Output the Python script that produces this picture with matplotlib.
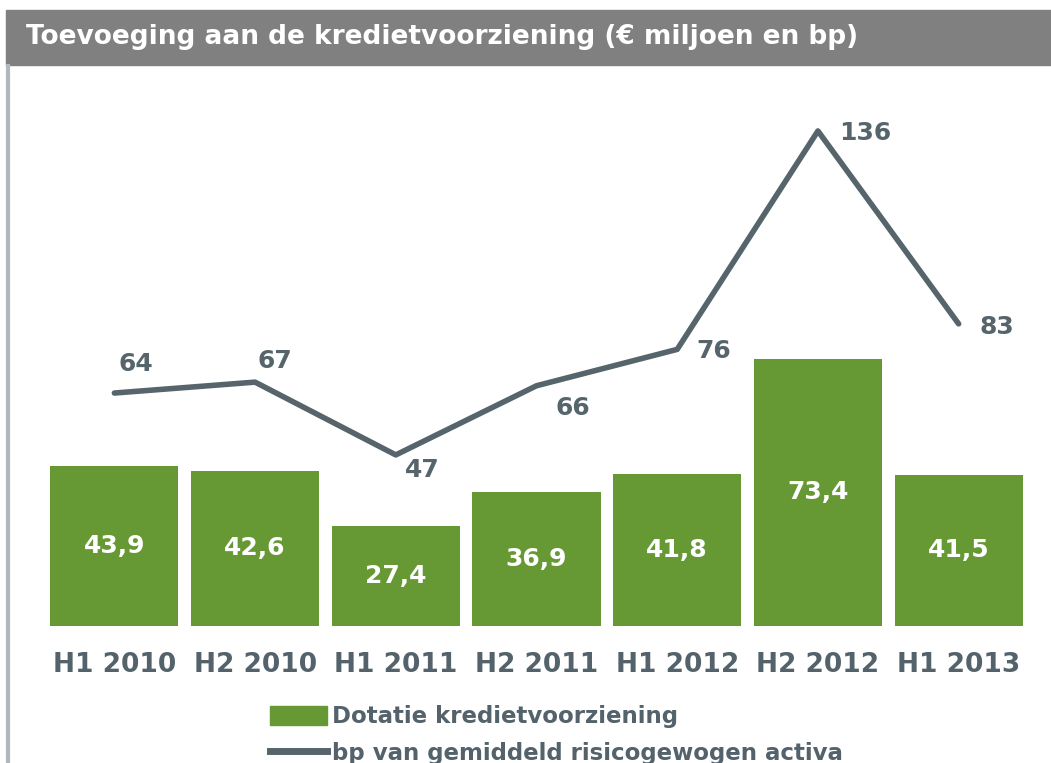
import matplotlib.pyplot as plt
import matplotlib.patches as mpatches
from matplotlib.lines import Line2D

plt.rcParams['font.family'] = ['DejaVu Sans']

periods = ['H1 2010', 'H2 2010', 'H1 2011', 'H2 2011', 'H1 2012', 'H2 2012', 'H1 2013']
dotatie = [43.9, 42.6, 27.4, 36.9, 41.8, 73.4, 41.5]
bp_values = [64, 67, 47, 66, 76, 136, 83]

# label offsets (pixels) for the bp labels
bp_offsets = [(22, 29), (20, 21), (27, -15), (36, -22), (37, -2), (47, -2), (38, -3)]

green = '#669933'
line_grey = '#56646b'
W, H = 1051, 763

fig = plt.figure(figsize=(W / 100, H / 100), dpi=100)

# title bar
fig.patches.append(mpatches.Rectangle((6 / W, 1 - 65 / H), 1 - 6 / W, 55 / H,
                                      transform=fig.transFigure, color='#808080', zorder=0))
fig.text(26 / W, 1 - 37 / H, 'Toevoeging aan de kredietvoorziening (€ miljoen en bp)',
         color='white', fontsize=19, fontweight='bold', va='center', ha='left')
# left rule
fig.add_artist(Line2D([8 / W, 8 / W], [0, 1 - 66 / H], transform=fig.transFigure,
                      color='#b0b8bc', linewidth=3))

ax = fig.add_axes([44 / W, 1 - 626 / H, 985 / W, 526 / H])
x = range(len(periods))
ax.bar(x, dotatie, width=0.91, color=green, zorder=1)
ax.plot(x, bp_values, color=line_grey, linewidth=4, solid_capstyle='round', zorder=2)

for i, v in enumerate(dotatie):
    ax.text(i, v / 2, f'{v:.1f}'.replace('.', ','), color='white', fontsize=18,
            fontweight='bold', ha='center', va='center')

for i, v in enumerate(bp_values):
    ax.annotate(str(v), (i, v), xytext=bp_offsets[i], textcoords='offset pixels',
                color=line_grey, fontsize=18, fontweight='bold', ha='center', va='center')

ax.set_xlim(-0.5, 6.5)
ax.set_ylim(0, 526 / 3.64)
ax.set_xticks(list(x))
ax.set_xticklabels(periods, fontsize=19, fontweight='bold', color='#54636b')
ax.tick_params(axis='x', length=0, pad=19)
ax.set_yticks([])
for s in ax.spines.values():
    s.set_visible(False)

handles = [mpatches.Patch(color=green, label='Dotatie kredietvoorziening'),
           Line2D([0], [0], color=line_grey, linewidth=5, label='bp van gemiddeld risicogewogen activa')]
fig.legend(handles=handles, loc='upper left', bbox_to_anchor=(261 / W, 1 - 696 / H),
           frameon=False, labelcolor='#54636b',
           prop={'weight': 'bold', 'size': 16.5}, handlelength=2.5, handleheight=0.9,
           handletextpad=0.2, labelspacing=0.6, borderaxespad=0)

fig.savefig('out.png', dpi=100)
